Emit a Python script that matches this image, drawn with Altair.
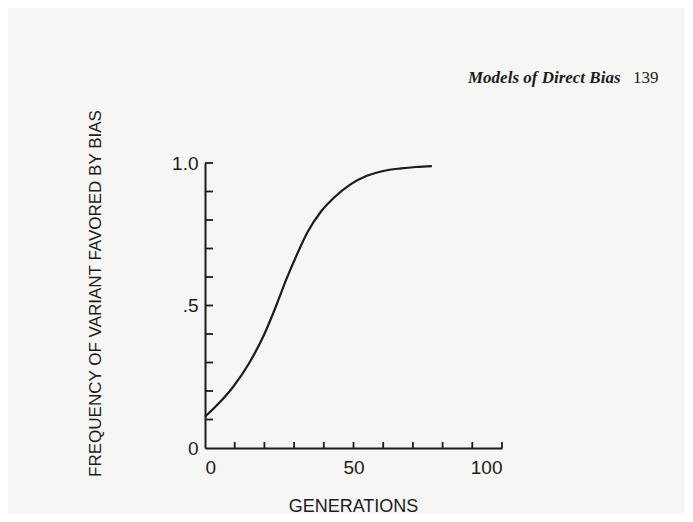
import altair as alt
import pandas as pd

# Curve
generations = [0, 4.0, 9.5, 15.0, 20.0, 24.0, 27.5, 31.0, 34.5, 39.0, 43.5,
               49.0, 54.5, 60.0, 66.0, 71.0, 76.4]
frequency = [0.11, 0.15, 0.215, 0.30, 0.40, 0.50, 0.595, 0.68, 0.757, 0.829,
             0.879, 0.925, 0.955, 0.972, 0.981, 0.986, 0.989]

y_ticks = [0.1, 0.2, 0.3, 0.4, 0.5, 0.6, 0.7, 0.8, 0.9, 1.0]
x_ticks = [10, 20, 30, 40, 50, 60, 70, 80, 90, 100]
y_labels = [0, 0.5, 1.0]
x_labels = [0, 50, 100]

header_text = ["Models of Direct Bias"]
page_number = ["139"]

curve = pd.DataFrame({"g": generations, "f": frequency})
ytk = pd.DataFrame({"f": y_ticks})
xtk = pd.DataFrame({"g": x_ticks})

INK = "#1c1c1c"
FONT = "Liberation Sans"

xscale = alt.Scale(domain=[0, 100], nice=False, zero=False)
yscale = alt.Scale(domain=[0, 1], nice=False, zero=False)

line = alt.Chart(curve).mark_line(color=INK, strokeWidth=2.2, interpolate="monotone").encode(
    x=alt.X("g:Q", scale=xscale, axis=alt.Axis(
        values=x_labels, ticks=False, grid=False, domainWidth=2, domainColor=INK,
        labelFont=FONT, labelFontSize=19, labelColor=INK, labelPadding=10,
        title="GENERATIONS", titleFont=FONT, titleFontSize=18, titleFontWeight="normal",
        titleColor=INK, titleX=148, titleY=63, titleBaseline="alphabetic", titleAlign="center")),
    y=alt.Y("f:Q", scale=yscale, axis=alt.Axis(
        values=y_labels, ticks=False, grid=False, domainWidth=2, domainColor=INK,
        labelExpr="datum.value==0?'0':(datum.value==1?'1.0':'.5')",
        labelFont=FONT, labelFontSize=19, labelColor=INK, labelPadding=7,
        title="FREQUENCY OF VARIANT FAVORED BY BIAS", titleFont=FONT, titleFontSize=17,
        titleFontWeight="normal", titleColor=INK, titleX=-110, titleY=130,
        titleAngle=270, titleBaseline="middle", titleAlign="center")),
)

yt = alt.Chart(ytk).mark_rule(color=INK, strokeWidth=1.8).encode(
    y=alt.Y("f:Q", scale=yscale), x=alt.value(0), x2=alt.value(8))

xt = alt.Chart(xtk).mark_rule(color=INK, strokeWidth=1.8).encode(
    x=alt.X("g:Q", scale=xscale), y=alt.value(285), y2=alt.value(279))

hdr = alt.Chart(pd.DataFrame({"t": header_text})).mark_text(
    font="Liberation Serif", fontStyle="italic", fontWeight="bold", fontSize=17, color=INK,
    align="left", baseline="alphabetic").encode(
    x=alt.value(263), y=alt.value(-80), text="t:N")

pg = alt.Chart(pd.DataFrame({"t": page_number})).mark_text(
    font="Liberation Serif", fontSize=17, color=INK,
    align="left", baseline="alphabetic").encode(
    x=alt.value(428), y=alt.value(-80), text="t:N")

chart = alt.layer(line, yt, xt, hdr, pg).properties(
    width=297, height=285,
    autosize=alt.AutoSizeParams(type="none"),
    padding={"left": 197, "top": 155, "right": 183, "bottom": 66},
    background="#f6f6f4",
).configure_view(stroke=None)

chart.save("out.html", embed_options={"renderer": "svg", "actions": False})
